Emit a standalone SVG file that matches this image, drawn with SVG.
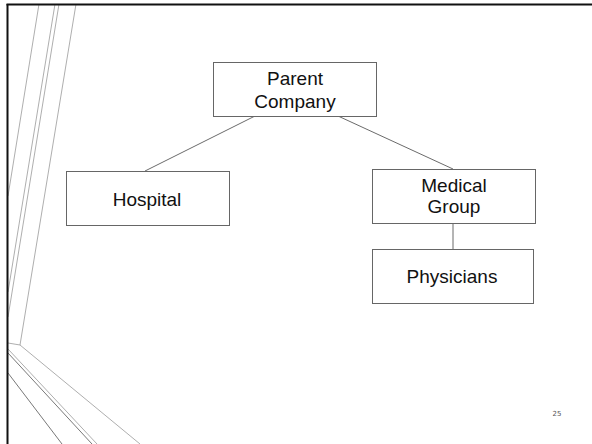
<svg xmlns="http://www.w3.org/2000/svg" width="592" height="444" viewBox="0 0 592 444">
<style>
.box{fill:#fff;stroke:#666;stroke-width:1}
.lbl{font-family:"Liberation Sans",Arial,sans-serif;font-size:19px;fill:#111;text-anchor:middle}
.conn{stroke:#444;stroke-width:0.8;fill:none}
.deco{stroke:#999;stroke-width:0.8;fill:none}
.decod{stroke:#555;stroke-width:0.8;fill:none}
</style>
<rect width="592" height="444" fill="#fff"/>
<g id="decoration">
<line class="deco" x1="39" y1="4" x2="8" y2="196"/>
<line class="deco" x1="55" y1="4" x2="8" y2="292"/>
<line class="deco" x1="59" y1="4" x2="8" y2="317"/>
<polyline class="deco" points="76,4 20,345 8,343"/>
<line class="deco" x1="20" y1="345" x2="140" y2="444"/>
<line class="deco" x1="8" y1="349" x2="97" y2="444"/>
<line class="decod" x1="8" y1="353" x2="92" y2="444"/>
<line class="decod" x1="8" y1="373" x2="62" y2="444"/>
</g>
<g id="frame">
<line x1="6.5" y1="4.5" x2="592" y2="4.5" stroke="#111" stroke-width="2"/>
<line x1="7.5" y1="4" x2="7.5" y2="444" stroke="#111" stroke-width="2"/>
</g>
<g id="connectors">
<line class="conn" x1="255" y1="116" x2="145" y2="171"/>
<line class="conn" x1="338" y1="116" x2="453" y2="169"/>
<line class="conn" x1="453" y1="223" x2="453" y2="249"/>
</g>
<g id="parent">
<rect class="box" x="213.5" y="62.5" width="163" height="54"/>
<text class="lbl" x="295" y="85">Parent</text>
<text class="lbl" x="295" y="108">Company</text>
</g>
<g id="hospital">
<rect class="box" x="66.5" y="171.5" width="163" height="54"/>
<text class="lbl" x="147" y="206">Hospital</text>
</g>
<g id="medical">
<rect class="box" x="372.5" y="169.5" width="163" height="54"/>
<text class="lbl" x="454" y="192">Medical</text>
<text class="lbl" x="454" y="213">Group</text>
</g>
<g id="physicians">
<rect class="box" x="372.5" y="249.5" width="161" height="54"/>
<text class="lbl" x="452" y="283">Physicians</text>
</g>
<text x="557" y="416" font-family="'DejaVu Sans',sans-serif" font-size="7" fill="#555" text-anchor="middle">25</text>
</svg>
